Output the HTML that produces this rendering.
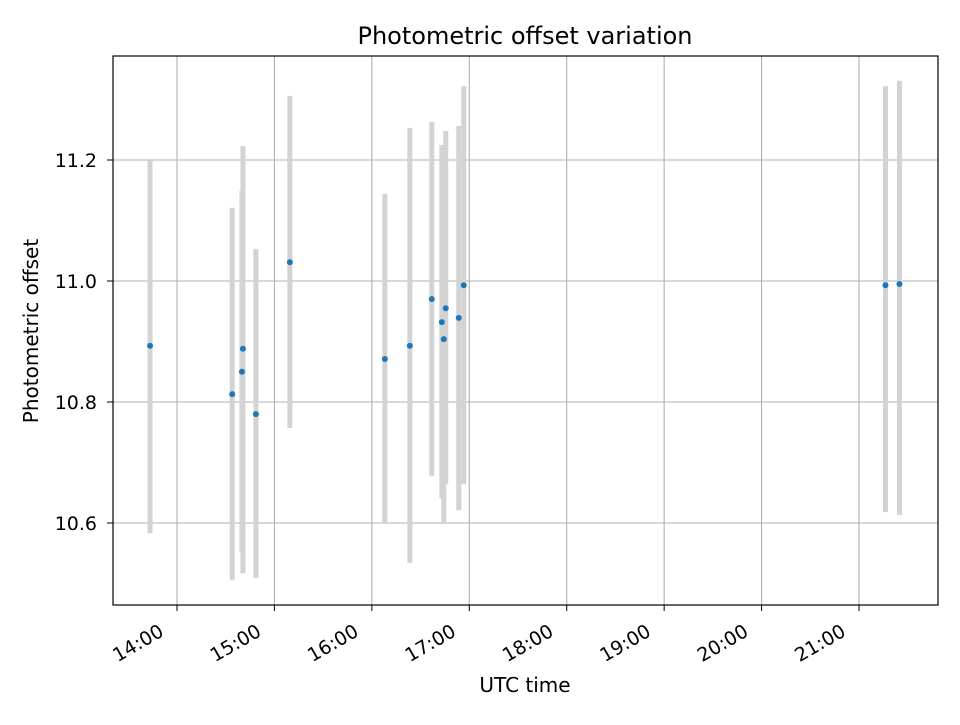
<!DOCTYPE html>
<html><head><meta charset="utf-8"><style>
body{margin:0;background:#fff}
svg text{font-family:"DejaVu Sans","Liberation Sans",sans-serif;fill:#000}
</style></head><body>
<svg id="chart" width="960" height="720" xmlns="http://www.w3.org/2000/svg">
<rect width="960" height="720" fill="#fff"/>
<text x="525" y="44" font-size="24" text-anchor="middle">Photometric offset variation</text>
<text x="525" y="692" font-size="20" text-anchor="middle">UTC time</text>
<text transform="translate(38,331) rotate(-90)" font-size="20" text-anchor="middle">Photometric offset</text>
<g id="grid"></g><g id="bars"></g><g id="pts"></g><g id="ticks"></g>
<rect x="113" y="56" width="825" height="549" fill="none" stroke="#000" stroke-width="1.2"/>
</svg>
<script>
const times=[823.4,874,880,880.6,888.6,909.5,968,983.4,996.9,1003.1,1004.3,1005.5,1013.5,1016.6,1276.3,1284.9];
const offsets=[10.893,10.813,10.850,10.888,10.780,11.031,10.871,10.893,10.970,10.932,10.904,10.955,10.939,10.993,10.993,10.995];
const upper=[11.200,11.121,11.150,11.223,11.053,11.306,11.144,11.253,11.263,11.225,11.210,11.248,11.256,11.322,11.322,11.331];
const lower=[10.583,10.506,10.552,10.517,10.509,10.757,10.600,10.534,10.678,10.641,10.600,10.664,10.621,10.664,10.618,10.613];
const xTickLabels=["14:00","15:00","16:00","17:00","18:00","19:00","20:00","21:00"];
const xTickMinutes=[840,900,960,1020,1080,1140,1200,1260];
const yTicks=[10.6,10.8,11.0,11.2];
const NS="http://www.w3.org/2000/svg";
function X(m){return 177+(m-840)*97.43/60;}
function Y(v){return 281-(v-11.0)*605;}
function mk(tag,attrs,parent){const e=document.createElementNS(NS,tag);for(const k in attrs)e.setAttribute(k,attrs[k]);parent.appendChild(e);return e;}
const grid=document.getElementById('grid'),bars=document.getElementById('bars'),pts=document.getElementById('pts'),ticks=document.getElementById('ticks');
xTickMinutes.forEach((m,i)=>{const x=X(m);
 const g=mk('line',{x1:x,x2:x,y1:56,y2:605,stroke:'#b0b0b0','stroke-width':1.1},grid);
 
 
 mk('line',{x1:x,x2:x,y1:605,y2:611,stroke:'#000'},ticks);
 const t=mk('text',{transform:`translate(${x-12},${635}) rotate(-30)`,'font-size':19,'text-anchor':'end'},ticks);
 t.textContent=xTickLabels[i];
 
 
});
yTicks.forEach(v=>{const y=Y(v);
 const g=mk('line',{x1:113,x2:938,y1:y,y2:y,stroke:'#b0b0b0','stroke-width':1.1},grid);
 
 
 mk('line',{x1:107,x2:113,y1:y,y2:y,stroke:'#000'},ticks);
 const t=mk('text',{x:97,y:y+7,'font-size':19,'text-anchor':'end'},ticks);
 t.textContent=v.toFixed(1);
 
 
});
times.forEach((m,i)=>{const x=X(m);
 const b=mk('line',{x1:x,x2:x,y1:Y(upper[i]),y2:Y(lower[i]),stroke:'#d3d3d3','stroke-width':5},bars);
 
 
});
times.forEach((m,i)=>{
 const c=mk('circle',{cx:X(m),cy:Y(offsets[i]),r:3,fill:'#1f77b4'},pts);
 
 
});
</script>
</body></html>
